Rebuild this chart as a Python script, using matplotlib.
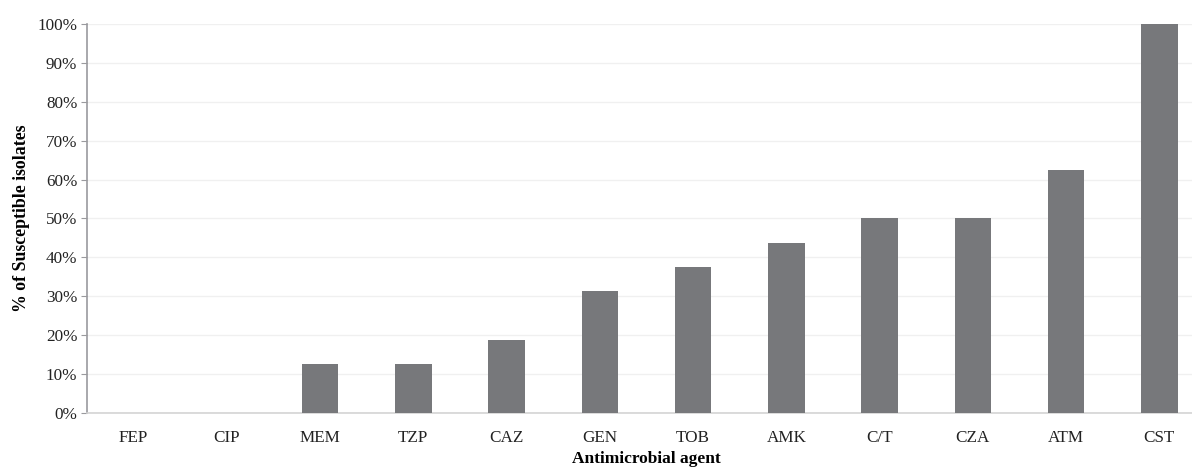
import matplotlib.pyplot as plt
import numpy as np
from matplotlib.ticker import PercentFormatter

# data (percent of susceptible isolates)
agents = ['FEP', 'CIP', 'MEM', 'TZP', 'CAZ', 'GEN', 'TOB', 'AMK', 'C/T', 'CZA', 'ATM', 'CST']
susceptible = [0, 0, 12.5, 12.5, 18.75, 31.25, 37.5, 43.75, 50, 50, 62.5, 100]

plt.rcParams['font.family'] = ['Liberation Serif', 'DejaVu Serif']

W, H = 1192, 469
fig = plt.figure(figsize=(W / 100, H / 100), dpi=100)
# plot area runs past the right edge of the picture (the original is cropped)
left, right, top, bottom = 87, 1206, 24, 413
ax = fig.add_axes([left / W, 1 - bottom / H, (right - left) / W, (bottom - top) / H])

x = np.arange(len(agents))
ax.bar(x, susceptible, width=0.39, color='#77787b', zorder=3)

ax.set_xlim(-0.5, len(agents) - 0.5)
ax.set_ylim(0, 100)
ax.set_yticks(np.arange(0, 101, 10))
ax.yaxis.set_major_formatter(PercentFormatter(decimals=0))
ax.set_xticks(x)
ax.set_xticklabels(agents)

ax.grid(axis='y', color='#f0f0f0', linewidth=1, zorder=0)
for s in ['top', 'right']:
    ax.spines[s].set_visible(False)
ax.spines['left'].set_color('#9a9a9e')
ax.spines['left'].set_linewidth(1.2)
ax.spines['bottom'].set_color('#d4d4d4')
ax.spines['bottom'].set_linewidth(1.2)

ax.tick_params(axis='y', length=4, color='#9a9a9e', labelsize=12.3, labelcolor='#222222', pad=3)
ax.tick_params(axis='x', length=0, labelsize=12.3, labelcolor='#222222', pad=12)

ax.set_ylabel('% of Susceptible isolates', fontsize=12.8, fontweight='bold', labelpad=5)
fig.text((87 + 1206) / 2 / W - 0.0, 1 - 459 / H, 'Antimicrobial agent',
         fontsize=12.5, fontweight='bold', ha='center', va='center')

fig.savefig('out.png', dpi=100)
